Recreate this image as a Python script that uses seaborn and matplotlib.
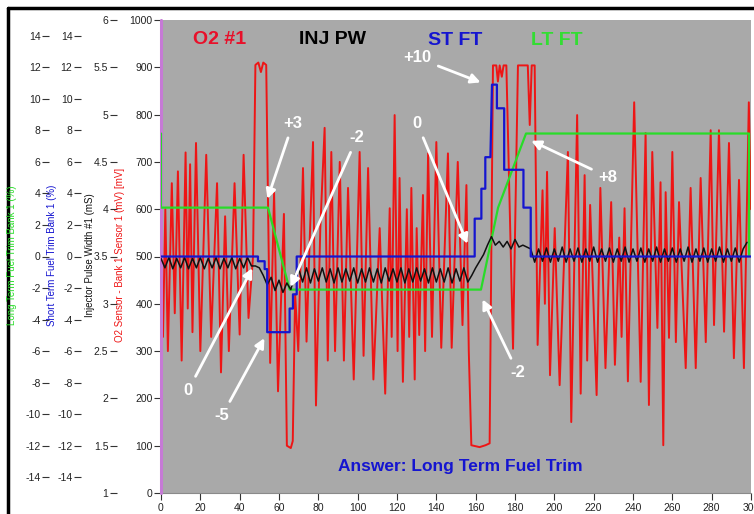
import numpy as np
import pandas as pd
import seaborn as sns
import matplotlib.pyplot as plt
from matplotlib import font_manager
from matplotlib.lines import Line2D
from matplotlib.ticker import MultipleLocator, FuncFormatter

# ---- O2 sensor bank 1 sensor 1 (mV) ----
o2_time = [0, 1, 2.2, 3.5, 5.5, 7, 8.6, 10.5, 12.5, 13.6, 14.8, 16, 17.8, 20, 23, 25.5,
           28.5, 30.5, 32.6, 34.5, 37.4, 40, 42, 44.5, 46.8, 48, 49.5, 50.8, 52, 53.5,
           55.5, 57.5, 59.5, 62.5, 64, 66, 67, 68.2, 69.8,
           72.2, 74, 75.5, 77.3, 78.8, 81, 83.2, 84.8, 86.6, 88.5, 90.9, 93, 95.1, 98,
           101, 103, 105.3, 108, 111.2, 114, 116.3, 117.3, 118.8, 120.3,
           121.3, 123, 125, 126.2, 127.3, 129, 130, 131.3, 133.2, 134.3, 135.8, 137.8,
           140, 142.5, 145.9, 147.8, 150.9, 153.3, 155.3, 156.5, 157.8, 162, 165, 167.1,
           168.8, 170.5, 171.3, 172.2, 173.3, 174.2, 175.6, 179, 181.5, 186.5, 187.5,
           188.5, 190,
           191.5, 194, 195.2, 196.3, 197.8, 200.2, 202.7, 206.9, 208.6, 211.6, 213.4,
           215.4, 216.7, 218.2, 221.5, 223.4, 226, 228.9, 230.8, 233, 234.2, 235.7,
           237.4, 240.6,
           243.9, 246.4, 248.1, 249.8, 252.4, 254, 255.4, 256.6, 258.3, 260, 261.8,
           263.4, 266.8, 269.3, 271.9, 274.4, 277, 279.5, 281.2, 283.7, 286.3, 288.8,
           291.3, 293.9, 296.4, 298.9, 300]
o2_mv = [470, 330, 600, 300, 655, 380, 680, 280, 720, 390, 695, 340, 740, 300, 715, 330,
         655, 255, 585, 300, 655, 335, 715, 370, 500, 905, 910, 890, 910, 905,
         275, 635, 215, 590, 100, 95, 110, 420, 300,
         687, 320, 520, 742, 185, 560, 772, 280, 721, 300, 700, 280, 645, 240,
         721, 290, 687, 240, 560, 210, 602, 330, 799, 300,
         666, 235, 600, 330, 645, 240, 560, 334, 630, 300, 718, 330,
         742, 307, 718, 307, 700, 355, 651, 300, 101, 97, 101, 105,
         904, 904, 870, 904, 880, 904, 904, 305, 904, 904, 778,
         904, 904,
         313, 640, 400, 679, 249, 560, 228, 721, 150, 799, 210,
         672, 280, 609, 207, 645, 264, 615, 271, 540, 330, 602,
         236, 826,
         235, 761, 186, 721, 349, 657, 101, 636, 328, 721, 319,
         615, 264, 645, 264, 666, 319, 767, 355, 767, 341, 740,
         285, 662, 264, 826, 600]

# ---- Short term fuel trim (%) ----
st_time = [0, 49.3, 49.3, 52.7, 52.7, 54, 54, 65.4, 65.4, 67.1, 67.1, 69, 69, 159.5, 159.5,
           162.9, 162.9, 164.9, 164.9, 167.5, 168.3, 170.8, 170.8, 174.5, 174.5, 184.3,
           184.3, 188, 188, 300]
st_pct = [0, 0, -0.3, -0.3, -0.8, -0.8, -4.8, -4.8, -3.3, -3.3, -2.4, -2.4, 0, 0, 2.4,
          2.4, 4.3, 4.3, 6.3, 6.3, 10.9, 10.9, 9.4, 9.4, 5.5, 5.5,
          3.1, 3.1, 0, 0]

# ---- Long term fuel trim (%) ----
lt_time = [0, 0, 54.4, 65.4, 162.7, 171.4, 185.6, 299, 299]
lt_pct = [7.8, 3.1, 3.1, -2.1, -2.1, 3.1, 7.8, 7.8, 0.1]

# ---- Injector pulse width #1 (mS), one reading every 2 s ----
inj_a = [3.48, 3.38, 3.49, 3.37, 3.48, 3.38, 3.49, 3.37, 3.48, 3.38, 3.49, 3.37,
         3.48, 3.38, 3.49, 3.37, 3.48, 3.38, 3.49, 3.37, 3.48, 3.38, 3.49, 3.40]
inj_b = [3.40, 3.38, 3.30, 3.20, 3.28, 3.14, 3.25, 3.12, 3.22, 3.15, 3.30]
inj_c = [3.37, 3.23, 3.38, 3.22, 3.37, 3.24, 3.38, 3.23, 3.37, 3.22, 3.38,
         3.23, 3.37, 3.24, 3.38, 3.22, 3.37, 3.23, 3.38, 3.23, 3.37, 3.22,
         3.38, 3.24, 3.37, 3.23, 3.38, 3.22, 3.37, 3.23, 3.38, 3.24, 3.37,
         3.22, 3.38, 3.23, 3.37, 3.23, 3.38, 3.22, 3.37, 3.24, 3.38, 3.23]
inj_d = [3.30, 3.38, 3.45, 3.52, 3.62, 3.71, 3.62, 3.66, 3.60, 3.66, 3.58, 3.68,
         3.60, 3.62, 3.60, 3.58]
inj_e = [3.44, 3.58, 3.45, 3.59, 3.44, 3.58, 3.45, 3.60, 3.44, 3.58, 3.45,
         3.59, 3.44, 3.58, 3.45, 3.60, 3.44, 3.58, 3.45, 3.59, 3.44, 3.58,
         3.45, 3.60, 3.44, 3.58, 3.45, 3.59, 3.44, 3.58, 3.45, 3.60, 3.44,
         3.58, 3.45, 3.59, 3.44, 3.58, 3.45, 3.60, 3.44, 3.58, 3.45, 3.59,
         3.44, 3.58, 3.45, 3.60, 3.44, 3.58, 3.45, 3.59, 3.44, 3.58, 3.65]
inj_ms = inj_a + inj_b + inj_c + inj_d + inj_e
inj_time = list(range(0, 2 * len(inj_ms), 2))

# callouts: label, text (t, mV), arrow tip (t, mV) in O2-axis units
callouts = [('+3', 67.1, 782, 53.9, 619), ('-2', 99.7, 751, 65.6, 433),
            ('0', 130.2, 782, 156.1, 524), ('+10', 130.2, 920, 163.2, 867),
            ('+8', 227.3, 668, 187.6, 746), ('0', 13.7, 216, 46.8, 478),
            ('-5', 31.0, 163, 52.9, 330), ('-2', 181.5, 254, 163.2, 412)]

RED, BLUE, GREEN, BLACK = '#ee1515', '#1515d0', '#28dc28', '#101010'

sns.set_theme(style='white')
names = {f.name for f in font_manager.fontManager.ttflist}
tick_font = 'Liberation Sans Narrow' if 'Liberation Sans Narrow' in names else 'Liberation Sans'
plt.rcParams['font.family'] = [tick_font, 'DejaVu Sans']
plt.rcParams['axes.unicode_minus'] = False
SANS = ['Liberation Sans', 'DejaVu Sans']

fig = plt.figure(figsize=(7.54, 5.14), dpi=100)
fig.patch.set_facecolor('white')
ax = fig.add_axes([161 / 754, 21 / 514, 590 / 754, 473 / 514])
ax.set_facecolor('#a9a9a9')
ax_lt = ax.twinx()
ax_inj = ax.twinx()
ax_st = ax.twinx()

sns.lineplot(x=o2_time, y=o2_mv, ax=ax, color=RED, lw=1.4, estimator=None, sort=False)
sns.lineplot(x=lt_time, y=lt_pct, ax=ax_lt, color=GREEN, lw=1.6, estimator=None, sort=False)
sns.lineplot(x=inj_time, y=inj_ms, ax=ax_inj, color=BLACK, lw=1.1, estimator=None, sort=False)
sns.lineplot(x=st_time, y=st_pct, ax=ax_st, color=BLUE, lw=1.6, estimator=None, sort=False)

ax.axvline(0, color='#c67ad6', lw=2.2, clip_on=False, zorder=5)

fmt = FuncFormatter(lambda v, p: f'{v:g}')
ax.set_xlim(0, 300)
ax.set_ylim(0, 1000)
ax.xaxis.set_major_locator(MultipleLocator(20))
ax.yaxis.set_major_locator(MultipleLocator(100))
ax.yaxis.set_major_formatter(fmt)
ax.tick_params(axis='both', direction='out', length=5, width=0.8, color='#333333',
               labelcolor='#222222', labelsize=7.5, pad=1, bottom=True, left=True)
ax.tick_params(axis='x', pad=2.5)
for s in ['top', 'right']:
    ax.spines[s].set_visible(False)
for s in ['left', 'bottom']:
    ax.spines[s].set_color('#8a8a8a')
    ax.spines[s].set_linewidth(0.8)

for a, pos, lim, step in [(ax_lt, -0.19, (-15, 15), 2), (ax_st, -0.136, (-15, 15), 2),
                          (ax_inj, -0.075, (1, 6), 0.5)]:
    a.set_ylim(*lim)
    a.set_xlim(0, 300)
    a.yaxis.set_ticks_position('left')
    a.spines['left'].set_position(('axes', pos))
    for s in ['left', 'top', 'right', 'bottom']:
        a.spines[s].set_visible(False)
    a.yaxis.set_major_locator(MultipleLocator(step))
    a.yaxis.set_major_formatter(fmt)
    a.tick_params(axis='y', direction='out', length=5, width=0.8, color='#333333',
                  labelcolor='#222222', labelsize=7.5, pad=1)
    a.set_ylabel('')

ax.set_xlabel('')
ax.set_ylabel('')

# rotated axis titles
for x_px, txt, col in [(12, 'Long Term Fuel Trim Bank 1 (%)', GREEN),
                       (52, 'Short Term Fuel Trim Bank 1 (%)', BLUE),
                       (90, 'Injector Pulse Width #1 (mS)', BLACK),
                       (120, 'O2 Sensor - Bank 1 Sensor 1 (mV) [mV]', RED)]:
    fig.text(x_px / 754, 1 - 255 / 514, txt, rotation=90, color=col, fontsize=7,
             ha='center', va='center', family=SANS)

# series names
for x, y, txt, col in [(0.100, 0.958, 'O2 #1', '#e8102a'), (0.290, 0.958, 'INJ PW', 'black'),
                       (0.498, 0.956, 'ST FT', BLUE), (0.671, 0.956, 'LT FT', '#33dd33')]:
    ax_st.text(x, y, txt, transform=ax_st.transAxes, color=col, fontsize=14,
               fontweight='bold', ha='center', va='center', family=SANS)

ax_st.text(0.508, 0.057, 'Answer: Long Term Fuel Trim', transform=ax_st.transAxes,
           color=BLUE, fontsize=12.5, fontweight='bold', ha='center', va='center', family=SANS)

for lab, tx, ty, hx, hy in callouts:
    ax_st.annotate(lab, xy=(hx, hy), xycoords=ax.transData, xytext=(tx, ty),
                   textcoords=ax.transData, color='white', fontsize=12, fontweight='bold',
                   ha='center', va='center', family=SANS,
                   arrowprops=dict(arrowstyle='-|>', color='white', lw=2,
                                   mutation_scale=14, shrinkA=3, shrinkB=1))

# black frame on the top and left of the capture
fig.add_artist(Line2D([7.5 / 754, 7.5 / 754], [0, 1 - 7.5 / 514], transform=fig.transFigure,
                      color='black', lw=2.5))
fig.add_artist(Line2D([7.5 / 754, 1], [1 - 7.5 / 514, 1 - 7.5 / 514], transform=fig.transFigure,
                      color='black', lw=2.5))

fig.savefig('out.png', dpi=100)
